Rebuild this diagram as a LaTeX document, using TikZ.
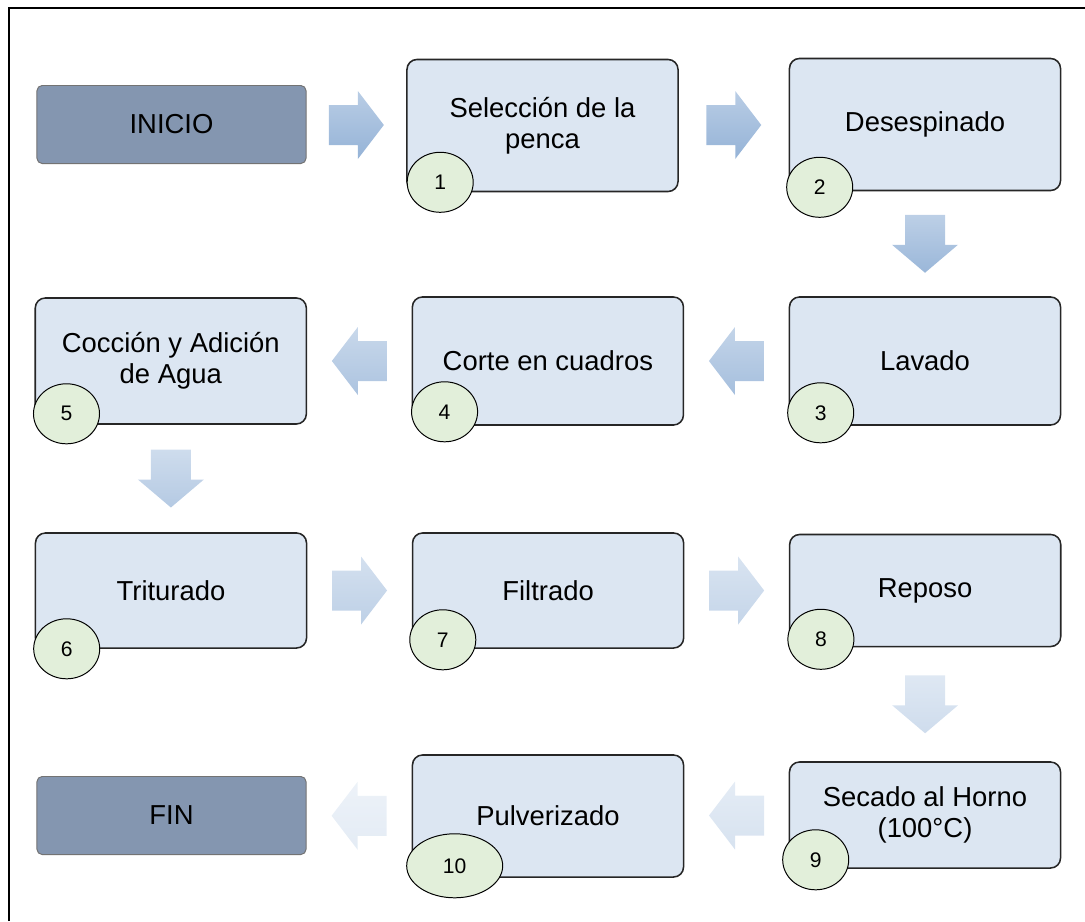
\documentclass[tikz,border=0pt]{standalone}
\usepackage{fontspec}
\setmainfont{Liberation Sans}
\usetikzlibrary{shapes.geometric,calc}

\definecolor{boxfill}{RGB}{220,230,242}
\definecolor{endfill}{RGB}{132,150,176}
\definecolor{numfill}{RGB}{226,239,218}
\definecolor{arrtop}{RGB}{185,205,229}
\definecolor{arrbot}{RGB}{149,179,215}

\tikzset{
  arrshade/.style={top color=arrtop!#1!white, bottom color=arrbot!#1!white, draw=none},
  rblk/.pic={\shade[arrshade=#1] (-27.5,-20) -- (1.5,-20) -- (1.5,-34) -- (27.5,0) -- (1.5,34) -- (1.5,20) -- (-27.5,20) -- cycle;},
  lblk/.pic={\shade[arrshade=#1] (27.5,-20) -- (-1.5,-20) -- (-1.5,-34) -- (-27.5,0) -- (-1.5,34) -- (-1.5,20) -- (27.5,20) -- cycle;},
  dblk/.pic={\shade[arrshade=#1] (-20,-29) -- (20,-29) -- (20,1) -- (33,1) -- (0,29) -- (-33,1) -- (-20,1) -- cycle;}
}

\begin{document}
\begin{tikzpicture}[x=0.025cm, y=-0.025cm, node distance=9.425cm,
    stepbox/.style = {draw=black!85, line width=1.1pt, fill=boxfill, rounded corners=0.25cm, minimum width=6.775cm, align=center, font=\fontsize{19.5}{22}\selectfont},
    endbox/.style = {draw=black!55, line width=0.7pt, fill=endfill, rounded corners=0.13cm, minimum width=6.725cm, minimum height=1.95cm, font=\fontsize{19.5}{22}\selectfont},
    num/.style = {ellipse, draw, line width=0.7pt, fill=numfill, minimum width=1.65cm, minimum height=1.5cm, inner sep=0pt, font=\fontsize{15}{18}\selectfont}]
    \useasboundingbox (0,0) rectangle (1085,921);
    \draw[line width=1pt] (9,921) -- (9,8) -- (1085,8);

    % row 1
    \node[endbox] (inicio) at (171.5,124.5) {INICIO};
    \node[stepbox, minimum height=3.3cm] (sel) at (542.5,125.5) {Selección de la\\penca};
    \node[stepbox, minimum height=3.3cm] (desp) at (925,124.5) {Desespinado};
    % row 2
    \node[stepbox, minimum height=3.2cm] (lav) at (925,361) {Lavado};
    \node[stepbox, minimum height=3.2cm] (corte) [left of=lav] {Corte en cuadros};
    \node[stepbox, minimum height=3.15cm] (cocc) [left of=corte] {Cocción y Adición\\de Agua};
    % row 3
    \node[stepbox, minimum height=2.875cm] (trit) at (171,590.5) {Triturado};
    \node[stepbox, minimum height=2.875cm] (filt) [right of=trit] {Filtrado};
    \node[stepbox, minimum height=2.8cm] (repo) [right of=filt] {Reposo};
    % row 4
    \node[stepbox, minimum height=2.65cm] (seca) at (925,815) {Secado al Horno\\(100°C)};
    \node[stepbox, minimum height=3.05cm] (pulv) at (548,816) {Pulverizado};
    \node[endbox] (fin) at (171.5,815.5) {FIN};

    % numbers
    \node[num] (n1) at ([shift={(34,-10)}]sel.south west) {1};
    \node[num] (n2) at ([shift={(31,-4)}]desp.south west) {2};
    \node[num] (n3) at ([shift={(32,-13)}]lav.south west) {3};
    \node[num] (n4) at ([shift={(33,-14)}]corte.south west) {4};
    \node[num] (n5) at ([shift={(32,-11)}]cocc.south west) {5};
    \node[num] (n6) at ([shift={(32,0)}]trit.south west) {6};
    \node[num] (n7) at ([shift={(31,-9)}]filt.south west) {7};
    \node[num] (n8) at ([shift={(32,-8)}]repo.south west) {8};
    \node[num] (n9) at ([shift={(27,-9)}]seca.south west) {9};
    \node[num, minimum width=2.4cm, minimum height=1.6cm] (n10) at ([shift={(43,-12)}]pulv.south west) {10};

    % arrows
    \coordinate (a1) at ($(inicio.east)!0.5!(sel.west)$);
    \coordinate (a2) at ($(sel.east)!0.5!(desp.west)$);
    \coordinate (a3) at ($(desp.south)!0.5!(lav.north)$);
    \coordinate (a4) at ($(lav.west)!0.5!(corte.east)$);
    \coordinate (a5) at ($(corte.west)!0.5!(cocc.east)$);
    \coordinate (a6) at ($(cocc.south)!0.5!(trit.north)$);
    \coordinate (a7) at ($(trit.east)!0.5!(filt.west)$);
    \coordinate (a8) at ($(filt.east)!0.5!(repo.west)$);
    \coordinate (a9) at ($(repo.south)!0.5!(seca.north)$);
    \coordinate (a10) at ($(seca.west)!0.5!(pulv.east)$);
    \coordinate (a11) at ($(pulv.west)!0.5!(fin.east)$);
    \pic at (a1) {rblk=100};
    \pic at (a2) {rblk=100};
    \pic at (a3) {dblk=95};
    \pic at (a4) {lblk=85};
    \pic at (a5) {lblk=78};
    \pic at (a6) {dblk=70};
    \pic at (a7) {rblk=62};
    \pic at (a8) {rblk=55};
    \pic at (a9) {dblk=46};
    \pic at (a10) {lblk=38};
    \pic at (a11) {lblk=26};
\end{tikzpicture}
\end{document}
